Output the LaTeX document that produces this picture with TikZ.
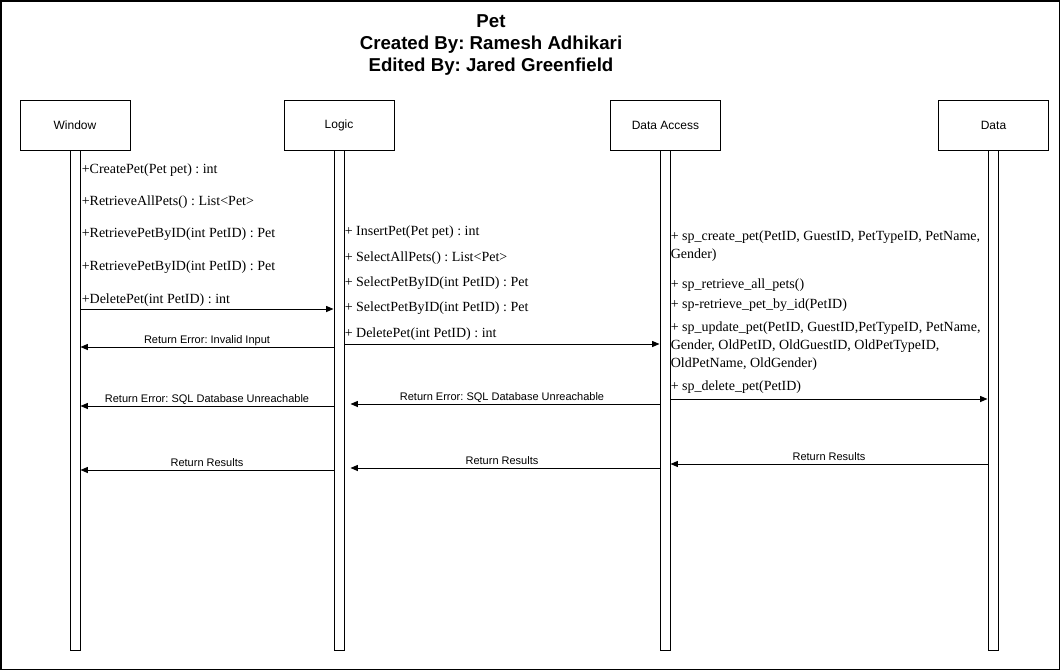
\documentclass[tikz,border=0pt]{standalone}
\usepackage{fontspec}
\setmainfont{Liberation Serif}
\newfontfamily\arialfont{Liberation Sans}
\usetikzlibrary{arrows.meta}
\frenchspacing
\begin{document}
\frenchspacing
\begin{tikzpicture}[x=0.75pt,y=-0.75pt,
  headbox/.style={draw, line width=0.75pt, minimum width=82.5pt, minimum height=37.5pt, inner sep=0pt, font=\arialfont\fontsize{9pt}{11pt}\selectfont},
  lifebar/.style={draw, line width=0.75pt, minimum width=7.5pt, minimum height=375pt, inner sep=0pt, fill=white},
  note/.style={anchor=base west, inner sep=0pt, align=left, font=\fontsize{10.5pt}{13.5pt}\selectfont},
  msg/.style={line width=0.75pt, -{Triangle[length=5.5pt,width=4.5pt]}},
  lbl/.style={anchor=base, yshift=3pt, inner sep=0pt, font=\arialfont\fontsize{8.25pt}{10pt}\selectfont},
  titletext/.style={anchor=base, inner sep=0pt, font=\arialfont\bfseries\fontsize{14pt}{16pt}\selectfont}]
\useasboundingbox (0,0) rectangle (1061,671);
\draw[line width=1.2pt] (0.8,0.8) rectangle (1059.5,669.5);

% title
\node[titletext] (t1) at (491,27) {Pet};
\node[titletext] (t2) at (491,50) {Created By: Ramesh Adhikari};
\node[titletext] (t3) at (491,71) {Edited By: Jared Greenfield};

% heads
\node[headbox] (win) at (75,125) {Window};
\node[headbox] (log) at (339,125) {Logic};
\node[headbox] (da) at (665.5,125) {Data Access};
\node[headbox] (data) at (993.5,125) {Data};

% lifelines
\node[lifebar] (winbar) at (75,400) {};
\node[lifebar] (logbar) at (339,400) {};
\node[lifebar] (dabar) at (665,400) {};
\node[lifebar] (databar) at (993,400) {};

% window notes
\node[note] (w1) at (81.5,173) {+CreatePet(Pet pet) : int};
\node[note] (w2) at (81.5,205) {+RetrieveAllPets() : List<Pet>};
\node[note] (w3) at (81.5,237) {+RetrievePetByID(int PetID) : Pet};
\node[note] (w4) at (81.5,270) {+RetrievePetByID(int PetID) : Pet};
\node[note] (w5) at (81.5,303) {+DeletePet(int PetID) : int};

% logic notes
\node[note] (l1) at (344.5,235) {+ InsertPet(Pet pet) : int};
\node[note] (l2) at (344.5,261) {+ SelectAllPets() : List<Pet>};
\node[note] (l3) at (344.5,286) {+ SelectPetByID(int PetID) : Pet};
\node[note] (l4) at (344.5,311.5) {+ SelectPetByID(int PetID) : Pet};
\node[note] (l5) at (344.5,337) {+ DeletePet(int PetID) : int};

% data access notes (base anchor of a multi-line node = last line)
\node[note] (d1) at (670.5,258) {+ sp\_create\_pet(PetID, GuestID, PetTypeID, PetName,\\Gender)};
\node[note] (d2) at (670.5,288) {+ sp\_retrieve\_all\_pets()};
\node[note] (d3) at (670.5,308) {+ sp-retrieve\_pet\_by\_id(PetID)};
\node[note] (d4) at (670.5,367) {+ sp\_update\_pet(PetID, GuestID,PetTypeID, PetName,\\Gender, OldPetID, OldGuestID, OldPetTypeID,\\OldPetName, OldGender)};
\node[note] (d5) at (670.5,390) {+ sp\_delete\_pet(PetID)};

% messages
\draw[msg] (winbar.east |- 0,309) -- (logbar.west |- 0,309);
\draw[msg] (logbar.west |- 0,347) -- node[lbl] {Return Error: Invalid Input} (winbar.east |- 0,347);
\draw[msg] (logbar.west |- 0,406) -- node[lbl] {Return Error: SQL Database Unreachable} (winbar.east |- 0,406);
\draw[msg] (logbar.west |- 0,470) -- node[lbl] {Return Results} (winbar.east |- 0,470);

\draw[msg] (logbar.east |- 0,344) -- (dabar.west |- 0,344);
\draw[msg, shorten >=4.5pt] (dabar.west |- 0,404) -- node[lbl] {Return Error: SQL Database Unreachable} (logbar.east |- 0,404);
\draw[msg, shorten >=4.5pt] (dabar.west |- 0,468) -- node[lbl] {Return Results} (logbar.east |- 0,468);

\draw[msg] (dabar.east |- 0,399) -- (databar.west |- 0,399);
\draw[msg] (databar.west |- 0,464) -- node[lbl] {Return Results} (dabar.east |- 0,464);
\end{tikzpicture}
\end{document}
